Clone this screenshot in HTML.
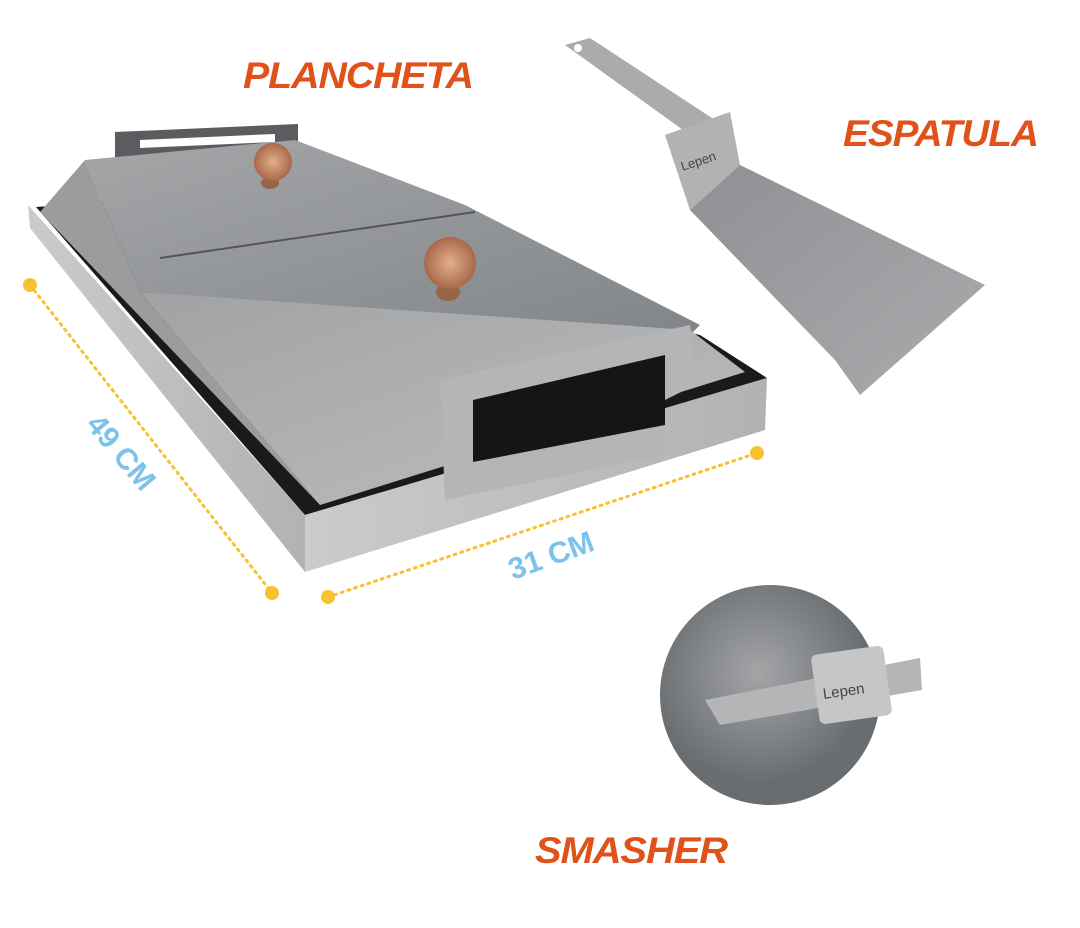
<!DOCTYPE html>
<html><head><meta charset="utf-8"><style>
html,body{margin:0;padding:0;background:#fff;}
svg{display:block;}
.t{font-family:"Liberation Sans",sans-serif;font-weight:900;font-style:italic;fill:#e0521a;letter-spacing:-1px;}
.m{font-family:"Liberation Sans",sans-serif;font-weight:900;fill:#7cc2ea;}
</style></head><body>
<svg width="1080" height="928" viewBox="0 0 1080 928" xmlns="http://www.w3.org/2000/svg">
<defs>
<linearGradient id="g1" x1="0" y1="0" x2="1" y2="1"><stop offset="0" stop-color="#a4a6a8"/><stop offset="1" stop-color="#828588"/></linearGradient>
<linearGradient id="g2" x1="0" y1="0" x2="1" y2="0"><stop offset="0" stop-color="#c9cbcc"/><stop offset="1" stop-color="#b0b2b4"/></linearGradient>
<linearGradient id="g3" x1="0" y1="0" x2="1" y2="1"><stop offset="0" stop-color="#a0a2a4"/><stop offset="1" stop-color="#bcbec0"/></linearGradient>
<linearGradient id="sp" x1="0" y1="0" x2="1" y2="1"><stop offset="0" stop-color="#8e9093"/><stop offset="1" stop-color="#a9abad"/></linearGradient>
<radialGradient id="k"><stop offset="0" stop-color="#e2b08a"/><stop offset="1" stop-color="#a8684a"/></radialGradient>
<radialGradient id="s" cx="0.45" cy="0.4"><stop offset="0" stop-color="#a3a5a7"/><stop offset="1" stop-color="#6a6d70"/></radialGradient>
</defs>

<text class="t" x="243" y="88" font-size="37" textLength="230" lengthAdjust="spacingAndGlyphs">PLANCHETA</text>
<text class="t" x="843" y="146" font-size="37" textLength="195" lengthAdjust="spacingAndGlyphs">ESPATULA</text>
<text class="t" x="535" y="863" font-size="37" textLength="192" lengthAdjust="spacingAndGlyphs">SMASHER</text>

<!-- back handle -->
<path d="M115 132 L298 124 L298 150 L115 158Z M140 140 L275 134 L275 142 L140 148Z" fill="#5a5c5f" fill-rule="evenodd"/>
<!-- tray left side -->
<polygon points="28,205 305,515 305,572 30,228" fill="url(#g2)"/>
<!-- tray inner dark -->
<polygon points="36,207 140,200 700,335 767,378 305,515" fill="#1a1a1a"/>
<!-- lid top -->
<polygon points="85,160 295,140 465,205 700,325 690,335 140,292" fill="url(#g1)"/>
<polygon points="85,160 140,292 320,505 40,212" fill="#9a9c9e"/>
<!-- lid seam -->
<polyline points="160,258 475,212" stroke="#555" stroke-width="2" fill="none"/>
<!-- lid front slope -->
<polygon points="140,292 690,330 745,372 320,505" fill="url(#g3)"/>
<!-- tray front -->
<polygon points="305,515 767,378 765,430 305,572" fill="url(#g2)"/>
<!-- front handle frame -->
<polygon points="440,380 690,325 695,385 665,400 665,455 445,500" fill="#b3b5b6"/>
<polygon points="473,400 665,355 665,425 473,462" fill="#151515"/>
<!-- knobs -->
<ellipse cx="270" cy="183" rx="9" ry="6" fill="#9a6448"/>
<circle cx="273" cy="162" r="19" fill="url(#k)"/>
<ellipse cx="448" cy="292" rx="12" ry="9" fill="#9a6448"/>
<circle cx="450" cy="263" r="26" fill="url(#k)"/>

<!-- dimension lines -->
<line x1="30" y1="285" x2="272" y2="593" stroke="#f6c230" stroke-width="3" stroke-dasharray="2 5" stroke-linecap="round"/>
<line x1="328" y1="597" x2="757" y2="453" stroke="#f6c230" stroke-width="3" stroke-dasharray="2 5" stroke-linecap="round"/>
<circle cx="30" cy="285" r="7" fill="#f6c230"/><circle cx="272" cy="593" r="7" fill="#f6c230"/>
<circle cx="328" cy="597" r="7" fill="#f6c230"/><circle cx="757" cy="453" r="7" fill="#f6c230"/>
<text class="m" font-size="30" transform="translate(85,425) rotate(50)">49 CM</text>
<text class="m" font-size="30" transform="translate(513,580) rotate(-20)">31 CM</text>

<!-- spatula -->
<polygon points="565,45 590,38 715,120 690,135" fill="#a9abad"/>
<circle cx="578" cy="48" r="4" fill="#fff"/>
<polygon points="665,135 730,112 740,165 690,210" fill="#b0b2b4"/>
<text x="680" y="165" font-family="Liberation Sans,sans-serif" font-size="13" fill="#444" transform="rotate(-18 700 160)">Lepen</text>
<polygon points="690,210 740,165 985,285 860,395 835,360" fill="url(#sp)"/>

<!-- smasher -->
<circle cx="770" cy="695" r="110" fill="url(#s)"/>
<polygon points="705,700 920,658 922,690 720,725" fill="#b3b5b7"/>
<rect x="815" y="650" width="73" height="70" rx="6" fill="#c4c6c7" transform="rotate(-8 851 685)"/>
<text x="822" y="695" font-family="Liberation Sans,sans-serif" font-size="15" fill="#444" transform="rotate(-8 851 685)">Lepen</text>
</svg>
</body></html>
